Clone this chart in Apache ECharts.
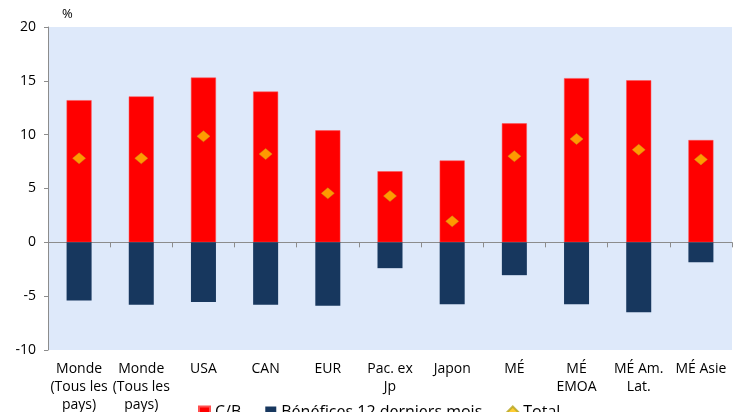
<!DOCTYPE html>
<html><head><meta charset="utf-8">
<script src="https://cdn.jsdelivr.net/npm/echarts@6/dist/echarts.min.js"></script>
<style>html,body{margin:0;padding:0;background:#fff}#c{width:741px;height:412px}</style>
</head><body><div id="c"></div>
<script>
const categories = ["Monde\n(Tous les\npays)", "Monde\n(Tous les\npays)", "USA", "CAN", "EUR", "Pac. ex\nJp", "Japon", "MÉ", "MÉ\nEMOA", "MÉ Am.\nLat.", "MÉ Asie"];
const cb = [13.2, 13.55, 15.3, 14.0, 10.4, 6.6, 7.6, 11.05, 15.25, 15.05, 9.5];
const benefices = [-5.4, -5.8, -5.55, -5.8, -5.9, -2.4, -5.75, -3.05, -5.75, -6.5, -1.85];
const total = [7.8, 7.8, 9.85, 8.2, 4.55, 4.3, 1.95, 8.0, 9.6, 8.6, 7.7];
const yTicks = {min: -10, max: 20, interval: 5};

const chart = echarts.init(document.getElementById('c'));
const font = 'Open Sans, Liberation Sans, sans-serif';
chart.setOption({
  animation: false,
  textStyle: {fontFamily: font},
  grid: {left: 48, right: 9, top: 27, bottom: 62, show: true, backgroundColor: '#DEE9FA', borderWidth: 0,
    containLabel: false, outerBoundsMode: 'none'},
  legend: {
    bottom: -13, left: 193, itemGap: 24, itemWidth: 11, itemHeight: 11,
    textStyle: {fontSize: 16, color: '#000', fontFamily: font},
    data: [{name: 'C/B', icon: 'rect'}, {name: 'Bénéfices 12 derniers mois', icon: 'rect'}, {name: 'Total', icon: 'diamond'}]
  },
  xAxis: {
    type: 'category', data: categories,
    axisLine: {onZero: true, lineStyle: {color: '#8C8C8C'}},
    axisTick: {show: true, alignWithLabel: false, length: 5, lineStyle: {color: '#8C8C8C'}},
    axisLabel: {interval: 0, color: '#000', fontSize: 14, lineHeight: 18, margin: 10, fontFamily: font},
    position: 'bottom'
  },
  yAxis: {
    type: 'value', min: yTicks.min, max: yTicks.max, interval: yTicks.interval,
    name: '%', nameLocation: 'end', nameGap: 6,
    nameTextStyle: {color: '#000', fontSize: 13, align: 'left', padding: [0, 0, 0, 14]},
    axisLine: {show: true, lineStyle: {color: '#8C8C8C'}},
    axisTick: {show: true, length: 4, lineStyle: {color: '#8C8C8C'}},
    axisLabel: {color: '#000', fontSize: 14, margin: 12},
    splitLine: {show: false}
  },
  series: [
    {name: 'C/B', type: 'bar', stack: 's', data: cb, barWidth: 25,
      itemStyle: {color: '#FF0000', borderColor: '#FF5050', borderWidth: 0.5}},
    {name: 'Bénéfices 12 derniers mois', type: 'bar', stack: 's', data: benefices, barWidth: 25,
      itemStyle: {color: '#17375E'}},
    {name: 'Total', type: 'scatter', data: total, symbol: 'diamond', symbolSize: [13, 11],
      itemStyle: {color: '#FFC000', borderColor: '#B5A520', borderWidth: 0.5}, z: 5}
  ]
});
</script></body></html>
